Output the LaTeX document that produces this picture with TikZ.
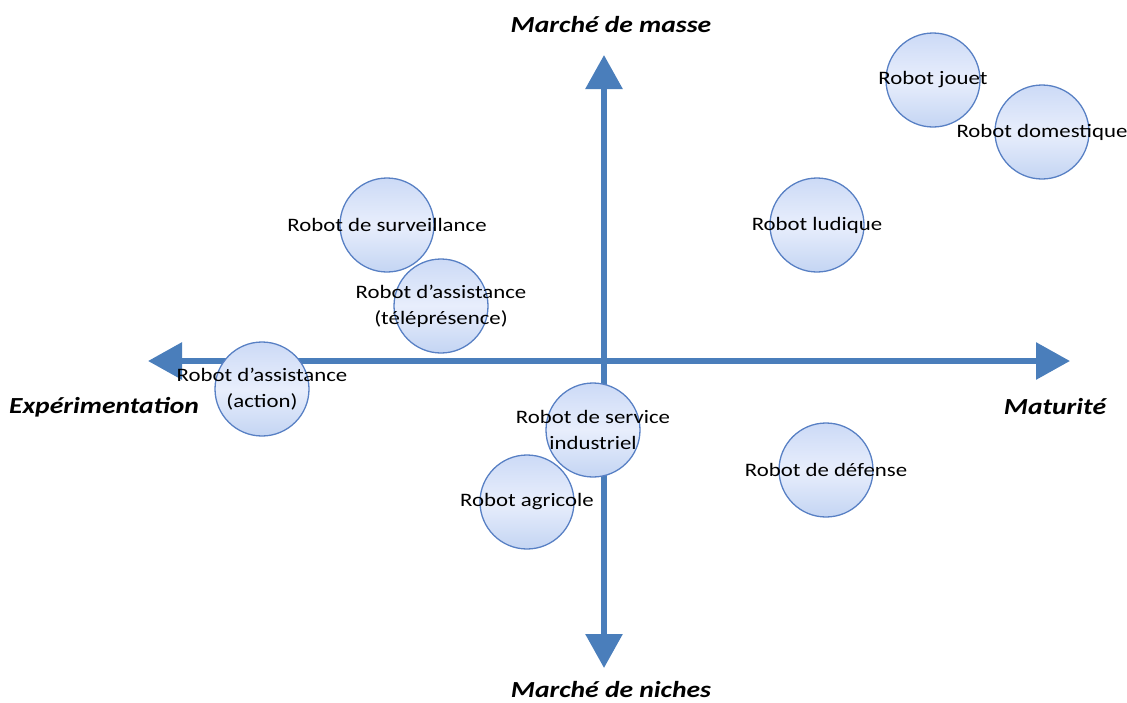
\documentclass[tikz,border=0pt]{standalone}
\usepackage{fontspec}
\setsansfont{Carlito}[FakeStretch=1.2]
\usetikzlibrary{arrows.meta}
\definecolor{axeblue}{RGB}{74,126,187}
\definecolor{bordblue}{RGB}{88,128,196}
\definecolor{hautblue}{RGB}{204,218,246}
\definecolor{milieublue}{RGB}{232,238,252}
\definecolor{basblue}{RGB}{196,213,243}

\begin{document}
\begin{tikzpicture}[x=1pt, y=-1pt,
    axe/.style={line width=6pt, axeblue, -{Triangle[length=34pt, width=36pt]}},
    titre/.style={font=\sffamily\bfseries\itshape\fontsize{23}{26}\selectfont},
    bulle/.style={circle, minimum size=94pt, inner sep=0pt, draw=bordblue, line width=1.3pt,
        top color=hautblue, bottom color=basblue, middle color=milieublue},
    etiq/.style={align=center, inner sep=0pt, font=\sffamily\fontsize{19}{26}\selectfont}]
    \useasboundingbox (0,0) rectangle (1127,702);

    % Axes
    \coordinate (centre) at (604,361);
    \coordinate (gauche) at (148,361);
    \coordinate (droite) at (1070,361);
    \coordinate (haut) at (604,55);
    \coordinate (bas) at (604,668);
    \draw[axe] (centre) -- (gauche);
    \draw[axe] (centre) -- (droite);
    \draw[axe] (centre) -- (haut);
    \draw[axe] (centre) -- (bas);

    % Titres des axes
    \node[titre] (masse) at (611,25) {Marché de masse};
    \node[titre] (niches) at (611,690) {Marché de niches};
    \node[titre] (experim) at (104,407) {Expérimentation};
    \node[titre] (matur) at (1055,407) {Maturité};

    % Robots
    \foreach \nom/\x/\y/\texte in {
        jouet/933/80/{Robot jouet},
        domestique/1042/132/{Robot domestique},
        surveillance/387/225/{Robot de surveillance},
        telepresence/441/306/{Robot d’assistance\\(téléprésence)},
        ludique/817/225/{Robot ludique},
        action/262/389/{Robot d’assistance\\(action)},
        service/593/430/{Robot de service\\industriel},
        agricole/527/502/{Robot agricole},
        defense/826/470/{Robot de défense}} {
        \node[bulle] (\nom) at (\x,\y) {};
        \node[etiq] (t-\nom) at (\nom) {\texte};
    }
\end{tikzpicture}
\end{document}
